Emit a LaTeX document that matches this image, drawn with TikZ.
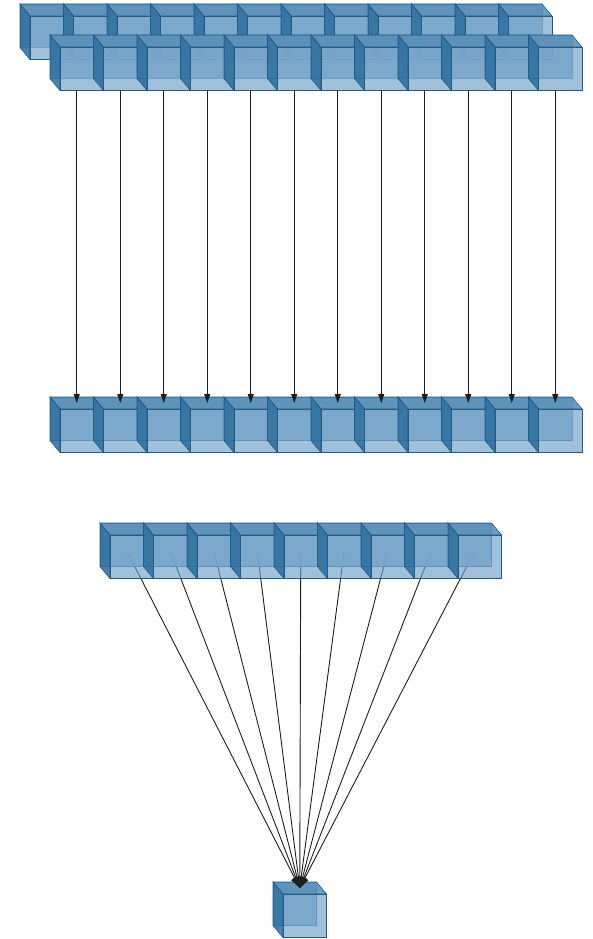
\documentclass[tikz,border=0pt]{standalone}
\usetikzlibrary{arrows.meta}
\definecolor{cubeedge}{RGB}{35,90,135}
\definecolor{cubeback}{RGB}{140,180,210}
\definecolor{cubetop}{RGB}{85,140,182}
\definecolor{cubeleft}{RGB}{40,108,158}
\definecolor{cubefront}{RGB}{110,158,198}
\definecolor{linkcol}{RGB}{30,30,30}
\tikzset{
  backface/.style={fill=cubeback, fill opacity=0.9, draw=cubeedge, draw opacity=0.6, line width=0.5pt},
  topface/.style={fill=cubetop, fill opacity=0.85, draw=cubeedge, line width=0.6pt},
  leftface/.style={fill=cubeleft, fill opacity=0.85, draw=cubeedge, line width=0.6pt},
  frontface/.style={rectangle, minimum width=43.5pt, minimum height=43.5pt, inner sep=0pt,
    fill=cubefront, fill opacity=0.65, draw=cubeedge, line width=0.7pt},
  pics/cube/.style={code={
    \path[backface] (-10,-12) rectangle (33.5,31.5);
    \path[topface] (-10,-12) -- (33.5,-12) -- (43.5,0) -- (0,0) -- cycle;
    \path[leftface] (-10,-12) -- (0,0) -- (0,43.5) -- (-10,31.5) -- cycle;
    \node[frontface] (-f) at (21.75,21.75) {};
    \coordinate (-c) at (16.75,15.75);
    \coordinate (-top) at (16.75,-6);
    \coordinate (-bot) at (16.75,43.5);
  }},
  vlink/.style={draw=linkcol, line width=1.1pt, -{Triangle[length=9pt,width=6pt]}},
  flink/.style={draw=linkcol, line width=0.9pt, -{Triangle[length=11pt,width=8pt]}}
}
\begin{document}
\begin{tikzpicture}[x=1pt,y=-1pt]
\useasboundingbox (0,0) rectangle (593,939);
% top double row
\foreach \i in {1,...,12} \pic (A\i) at ({30+(\i-1)*43.5},16) {cube};
\foreach \i in {1,...,12} \pic (B\i) at ({60+(\i-1)*43.5},47) {cube};
% middle row
\foreach \i in {1,...,12} \pic (M\i) at ({60+(\i-1)*43.5},409) {cube};
\foreach \i in {1,...,12} \draw[vlink] (B\i-bot) -- (M\i-top);
% fan-in
\pic (Z) at (283,894) {cube};
\foreach \i in {1,...,9} \draw[flink] ({110+(\i-1)*43.5+16.75},551) coordinate (C\i-s) -- (Z-top);
\foreach \i in {1,...,9} \pic (C\i) at ({110+(\i-1)*43.5},535) {cube};
\end{tikzpicture}
\end{document}
